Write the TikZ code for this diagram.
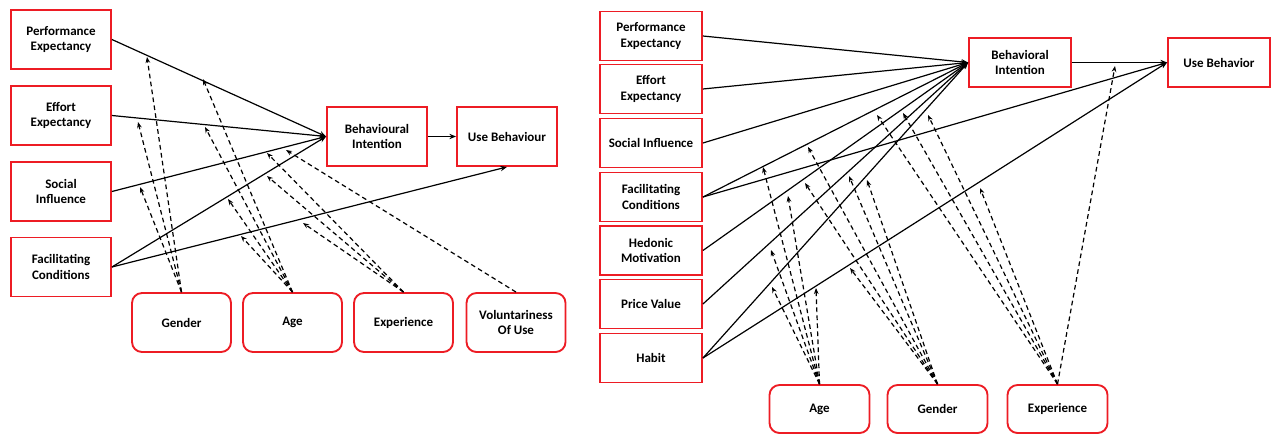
\documentclass[tikz,border=0pt]{standalone}
\usepackage{fontspec}
\setmainfont{Carlito}
\usetikzlibrary{arrows.meta}
\definecolor{boxred}{RGB}{237,28,36}
\begin{document}
\begin{tikzpicture}[x=0.75pt,y=-0.75pt,
  every node/.style={font=\fontsize{9.75}{11.5}\selectfont\bfseries, align=center, inner sep=0pt},
  sq/.style={draw=boxred, line width=1.4pt, fill=white},
  rd/.style={sq, rounded corners=7.5pt},
  lbox/.style={sq, minimum width=75pt, minimum height=44.25pt},
  lmod/.style={rd, minimum width=74.25pt, minimum height=44.25pt},
  rbox/.style={sq, minimum width=76.5pt, minimum height=36.75pt},
  rmod/.style={rd, minimum width=75pt, minimum height=36pt},
  link/.style={line width=0.9pt, -{Stealth[length=5pt,width=4pt]}},
  modlink/.style={line width=0.9pt, dash pattern=on 3.5pt off 2.5pt, -{Stealth[length=4.5pt,width=3.5pt]}}
]
\useasboundingbox (0,0) rectangle (1280,435);

% ---------- UTAUT ----------
\node[lbox] (lpe) at (61,39.5) {Performance\\Expectancy};
\node[lbox] (lee) at (61,115.5) {Effort\\Expectancy};
\node[lbox] (lsi) at (61,191.5) {Social\\Influence};
\node[lbox] (lfc) at (61,267) {Facilitating\\Conditions};
\node[lbox] (lbi) at (377,136.5) {Behavioural\\Intention};
\node[lbox] (lub) at (507,136.5) {Use Behaviour};
\node[lmod] (lgen) at (181.5,322.5) {Gender};
\node[lmod] (lage) at (292.5,322.5) {Age};
\node[lmod] (lexp) at (403.5,322.5) {Experience};
\node[lmod] (lvol) at (516,322.5) {Voluntariness\\Of Use};

\foreach \s in {lpe,lee,lsi,lfc} \draw[link] (\s.east) -- (lbi.west);
\draw[link] (lfc.east) -- (lub.south);
\draw[link] (lbi) -- (lub);

% moderating effects
\coordinate (lg1) at (147,57);
\coordinate (lg2) at (138,122);
\coordinate (lg3) at (140,187);
\coordinate (la1) at (203,79);
\coordinate (la2) at (205,127);
\coordinate (la3) at (228,199);
\coordinate (la4) at (241,236);
\coordinate (le1) at (267,153);
\coordinate (le2) at (267,176);
\coordinate (le3) at (303,223);
\coordinate (lv1) at (286,150);

\foreach \t in {lg1,lg2,lg3} \draw[modlink] (lgen.north) -- (\t);
\foreach \t in {la1,la2,la3,la4} \draw[modlink] (lage.north) -- (\t);
\foreach \t in {le1,le2,le3} \draw[modlink] (lexp.north) -- (\t);
\draw[modlink] (lvol.north) -- (lv1);

% ---------- UTAUT2 ----------
\node[rbox] (rpe) at (651,36) {Performance\\Expectancy};
\node[rbox] (ree) at (651,89) {Effort\\Expectancy};
\node[rbox] (rsi) at (651,143) {Social Influence};
\node[rbox] (rfc) at (651,197) {Facilitating\\Conditions};
\node[rbox] (rhm) at (651,250.5) {Hedonic\\Motivation};
\node[rbox] (rpv) at (651,304) {Price Value};
\node[rbox] (rht) at (651,358) {Habit};
\node[rbox] (rbi) at (1020,62.5) {Behavioral\\Intention};
\node[rbox] (rub) at (1219,62.5) {Use Behavior};
\node[rmod] (rage) at (819.5,409) {Age};
\node[rmod] (rgen) at (937.5,409) {Gender};
\node[rmod] (rexp) at (1057.5,409) {Experience};

\foreach \s in {rpe,ree,rsi,rfc,rhm,rpv,rht} \draw[link] (\s.east) -- (rbi.west);
\draw[link] (rfc.east) -- (rub.west);
\draw[link] (rht.east) -- (rub.west);
\draw[link] (rbi) -- (rub);

% moderating effects
\coordinate (ra1) at (763,167);
\coordinate (ra2) at (788,196);
\coordinate (ra3) at (771,250);
\coordinate (ra4) at (772,287);
\coordinate (ra5) at (816,288);
\coordinate (rg1) at (808,147);
\coordinate (rg2) at (805,183);
\coordinate (rg3) at (849,176);
\coordinate (rg4) at (867,180);
\coordinate (rg5) at (850,268);
\coordinate (re1) at (877,115);
\coordinate (re2) at (903,113);
\coordinate (re3) at (928,115);
\coordinate (re4) at (980,188);
\coordinate (re5) at (1115,66);

\foreach \t in {ra1,ra2,ra3,ra4,ra5} \draw[modlink] (rage.north) -- (\t);
\foreach \t in {rg1,rg2,rg3,rg4,rg5} \draw[modlink] (rgen.north) -- (\t);
\foreach \t in {re1,re2,re3,re4,re5} \draw[modlink] (rexp.north) -- (\t);
\end{tikzpicture}
\end{document}
